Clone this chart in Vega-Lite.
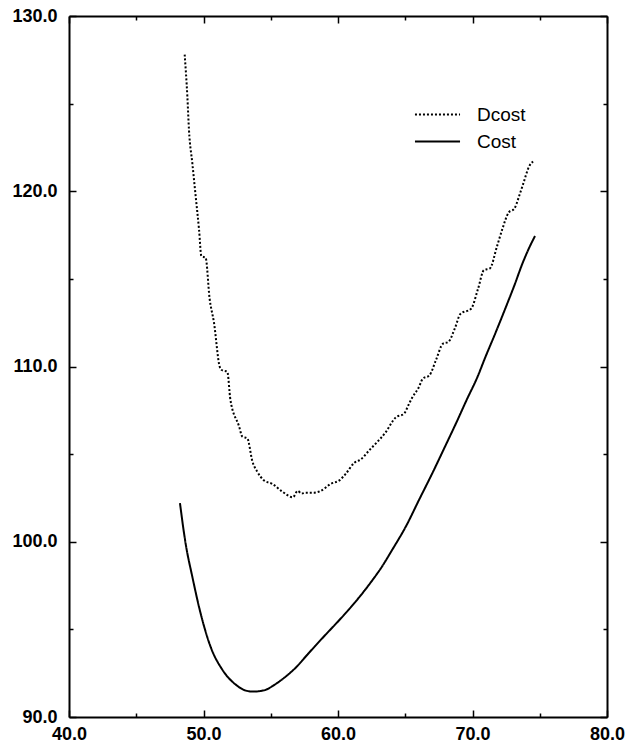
{
  "$schema": "https://vega.github.io/schema/vega-lite/v6.json",
  "width": 538,
  "height": 701,
  "autosize": "none",
  "padding": {"left": 69, "top": 16, "right": 22, "bottom": 33},
  "background": "white",
  "config": {
    "view": {"stroke": null},
    "font": "Liberation Sans",
    "axis": {
      "domainColor": "black",
      "domainWidth": 2,
      "tickColor": "black",
      "tickWidth": 1.5,
      "labelColor": "black",
      "labelFont": "Liberation Sans",
      "labelFontSize": 18,
      "labelFontWeight": "bold",
      "grid": false,
      "title": null
    }
  },
  "data": {
    "values": [
      {"series": "Dcost", "x": 48.6, "y": 127.8},
      {"series": "Dcost", "x": 48.8, "y": 125.4},
      {"series": "Dcost", "x": 48.92, "y": 123.5},
      {"series": "Dcost", "x": 49.17, "y": 121.6},
      {"series": "Dcost", "x": 49.42, "y": 119.7},
      {"series": "Dcost", "x": 49.67, "y": 117.8},
      {"series": "Dcost", "x": 49.84, "y": 116.3},
      {"series": "Dcost", "x": 50.16, "y": 116.2},
      {"series": "Dcost", "x": 50.45, "y": 113.9},
      {"series": "Dcost", "x": 50.78, "y": 112.5},
      {"series": "Dcost", "x": 51.2, "y": 110.0},
      {"series": "Dcost", "x": 51.35, "y": 109.8},
      {"series": "Dcost", "x": 51.77, "y": 109.7},
      {"series": "Dcost", "x": 52.0, "y": 108.1},
      {"series": "Dcost", "x": 52.64, "y": 106.6},
      {"series": "Dcost", "x": 52.89, "y": 106.0},
      {"series": "Dcost", "x": 53.26, "y": 105.9},
      {"series": "Dcost", "x": 53.63, "y": 104.6},
      {"series": "Dcost", "x": 54.0, "y": 104.0},
      {"series": "Dcost", "x": 54.5, "y": 103.5},
      {"series": "Dcost", "x": 55.12, "y": 103.3},
      {"series": "Dcost", "x": 55.86, "y": 102.86},
      {"series": "Dcost", "x": 56.65, "y": 102.54},
      {"series": "Dcost", "x": 57.0, "y": 102.9},
      {"series": "Dcost", "x": 57.3, "y": 102.75},
      {"series": "Dcost", "x": 57.6, "y": 102.8},
      {"series": "Dcost", "x": 58.2, "y": 102.8},
      {"series": "Dcost", "x": 58.71, "y": 102.9},
      {"series": "Dcost", "x": 59.45, "y": 103.3},
      {"series": "Dcost", "x": 60.1, "y": 103.5},
      {"series": "Dcost", "x": 60.6, "y": 103.9},
      {"series": "Dcost", "x": 61.2, "y": 104.5},
      {"series": "Dcost", "x": 61.7, "y": 104.7},
      {"series": "Dcost", "x": 62.3, "y": 105.2},
      {"series": "Dcost", "x": 62.8, "y": 105.6},
      {"series": "Dcost", "x": 63.5, "y": 106.2},
      {"series": "Dcost", "x": 64.3, "y": 107.1},
      {"series": "Dcost", "x": 64.9, "y": 107.3},
      {"series": "Dcost", "x": 65.3, "y": 107.9},
      {"series": "Dcost", "x": 65.5, "y": 108.2},
      {"series": "Dcost", "x": 66.0, "y": 108.8},
      {"series": "Dcost", "x": 66.3, "y": 109.3},
      {"series": "Dcost", "x": 66.8, "y": 109.5},
      {"series": "Dcost", "x": 67.3, "y": 110.4},
      {"series": "Dcost", "x": 67.8, "y": 111.3},
      {"series": "Dcost", "x": 68.2, "y": 111.4},
      {"series": "Dcost", "x": 68.7, "y": 112.2},
      {"series": "Dcost", "x": 69.1, "y": 113.0},
      {"series": "Dcost", "x": 69.9, "y": 113.3},
      {"series": "Dcost", "x": 70.4, "y": 114.4},
      {"series": "Dcost", "x": 70.85, "y": 115.5},
      {"series": "Dcost", "x": 71.3, "y": 115.6},
      {"series": "Dcost", "x": 71.8, "y": 116.8},
      {"series": "Dcost", "x": 72.2, "y": 117.8},
      {"series": "Dcost", "x": 72.7, "y": 118.8},
      {"series": "Dcost", "x": 73.1, "y": 119.0},
      {"series": "Dcost", "x": 73.5, "y": 119.8},
      {"series": "Dcost", "x": 73.8, "y": 120.5},
      {"series": "Dcost", "x": 74.2, "y": 121.4},
      {"series": "Dcost", "x": 74.5, "y": 121.7},
      {"series": "Cost", "x": 48.25, "y": 102.2},
      {"series": "Cost", "x": 48.67, "y": 99.9},
      {"series": "Cost", "x": 49.17, "y": 98.0},
      {"series": "Cost", "x": 49.79, "y": 95.9},
      {"series": "Cost", "x": 50.53, "y": 94.0},
      {"series": "Cost", "x": 51.4, "y": 92.7},
      {"series": "Cost", "x": 52.39, "y": 91.85},
      {"series": "Cost", "x": 53.0, "y": 91.55},
      {"series": "Cost", "x": 53.63, "y": 91.45},
      {"series": "Cost", "x": 54.2, "y": 91.48},
      {"series": "Cost", "x": 54.62, "y": 91.55},
      {"series": "Cost", "x": 55.3, "y": 91.85},
      {"series": "Cost", "x": 56.1, "y": 92.3},
      {"series": "Cost", "x": 56.9, "y": 92.85},
      {"series": "Cost", "x": 57.6, "y": 93.45},
      {"series": "Cost", "x": 58.3, "y": 94.05},
      {"series": "Cost", "x": 59.08, "y": 94.7},
      {"series": "Cost", "x": 60.0, "y": 95.45},
      {"series": "Cost", "x": 60.82, "y": 96.15},
      {"series": "Cost", "x": 61.7, "y": 96.95},
      {"series": "Cost", "x": 62.55, "y": 97.8},
      {"series": "Cost", "x": 63.2, "y": 98.5},
      {"series": "Cost", "x": 64.0, "y": 99.5},
      {"series": "Cost", "x": 65.1, "y": 100.95},
      {"series": "Cost", "x": 66.0, "y": 102.35},
      {"series": "Cost", "x": 67.07, "y": 104.0},
      {"series": "Cost", "x": 68.0, "y": 105.5},
      {"series": "Cost", "x": 68.83, "y": 106.85},
      {"series": "Cost", "x": 69.6, "y": 108.15},
      {"series": "Cost", "x": 70.34, "y": 109.35},
      {"series": "Cost", "x": 70.97, "y": 110.56},
      {"series": "Cost", "x": 71.7, "y": 111.9},
      {"series": "Cost", "x": 72.46, "y": 113.35},
      {"series": "Cost", "x": 73.1, "y": 114.6},
      {"series": "Cost", "x": 73.7, "y": 115.85},
      {"series": "Cost", "x": 74.2, "y": 116.75},
      {"series": "Cost", "x": 74.65, "y": 117.45}
    ]
  },
  "layer": [
    {
      "mark": {"type": "line", "color": "black", "strokeWidth": 2, "interpolate": "monotone"},
      "encoding": {
        "x": {
          "field": "x",
          "type": "quantitative",
          "scale": {"domain": [40, 80], "nice": false, "zero": false},
          "axis": {
            "orient": "bottom",
            "values": [40, 45, 50, 55, 60, 65, 70, 75, 80],
            "labelExpr": "datum.value % 10 === 0 ? format(datum.value, '.1f') : ''",
            "tickSize": {"condition": {"test": "datum.value % 10 === 0", "value": -7}, "value": -4},
            "labelPadding": 15,
            "labelFlush": false,
            "labelOverlap": false
          }
        },
        "y": {
          "field": "y",
          "type": "quantitative",
          "scale": {"domain": [90, 130], "nice": false, "zero": false},
          "axis": {
            "orient": "left",
            "values": [90, 95, 100, 105, 110, 115, 120, 125, 130],
            "labelExpr": "datum.value % 10 === 0 ? format(datum.value, '.1f') : ''",
            "tickSize": {"condition": {"test": "datum.value % 10 === 0", "value": -7}, "value": -4},
            "labelPadding": 19,
            "labelFlush": false,
            "labelOverlap": false
          }
        },
        "strokeDash": {
          "field": "series",
          "type": "nominal",
          "scale": {"domain": ["Dcost", "Cost"], "range": [[2, 2], [1, 0]]},
          "legend": {
            "title": null,
            "orient": "none",
            "legendX": 359,
            "legendY": 89,
            "padding": 0,
            "symbolType": "M-4,0H4",
            "symbolSize": 127,
            "symbolStrokeWidth": 2,
            "symbolStrokeColor": "black",
            "labelOffset": 30,
            "labelFontSize": 19,
            "labelFont": "Liberation Sans",
            "labelColor": "black",
            "rowPadding": 7
          }
        }
      }
    },
    {
      "mark": {"type": "line", "opacity": 0},
      "encoding": {
        "x": {
          "field": "x",
          "type": "quantitative",
          "scale": {"domain": [40, 80], "nice": false, "zero": false},
          "axis": {
            "orient": "top",
            "values": [40, 45, 50, 55, 60, 65, 70, 75, 80],
            "labels": false,
            "tickSize": {"condition": {"test": "datum.value % 10 === 0", "value": -7}, "value": -4}
          }
        },
        "y": {
          "field": "y",
          "type": "quantitative",
          "scale": {"domain": [90, 130], "nice": false, "zero": false},
          "axis": {
            "orient": "right",
            "values": [90, 95, 100, 105, 110, 115, 120, 125, 130],
            "labels": false,
            "tickSize": {"condition": {"test": "datum.value % 10 === 0", "value": -7}, "value": -4}
          }
        },
        "detail": {"field": "series", "type": "nominal"}
      }
    }
  ],
  "resolve": {"axis": {"x": "independent", "y": "independent"}}
}
